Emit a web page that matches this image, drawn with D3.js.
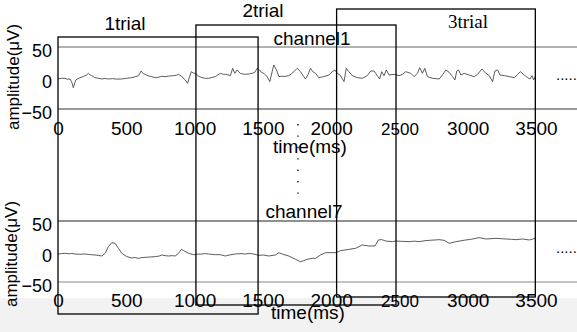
<!DOCTYPE html>
<html>
<head>
<meta charset="utf-8">
<script src="https://cdn.jsdelivr.net/npm/d3@7"></script>
<style>
body { margin: 0; background: #fff; }
svg { display: block; }
</style>
</head>
<body>
<div class="canvas"></div>
<script>
// tick labels
const xTicks = [0, 500, 1000, 1500, 2000, 2500, 3000, 3500];
const yTicks = [50, 0, -50];

// trial windows (ms)
const trials = ['1trial', '2trial', '3trial'];
const trialStart = [0, 1010, 2040];
const trialEnd = [1465, 2475, 3495];

// channel 1 samples [ms, uV]
const ch1 = [[0,-1.6],[25,-0.5],[51,-0.5],[70,-2],[88,-1.6],[100,-6],[112,-15.6],[130,-3.2],[145,-1],[161,0.5],[180,2],[198,3.8],[210,5],[223,7.5],[235,5],[247,3.8],[270,0.5],[296,-0.5],[320,-1.5],[345,-0.8],[369,-1.6],[400,-1],[430,-1.8],[467,-1.6],[500,-0.5],[540,0.5],[565,2],[590,3.8],[609,11.3],[625,7],[638,5.9],[660,3.5],[687,2.2],[712,0.5],[740,1.5],[760,2.8],[785,2.2],[815,3.2],[846,3.8],[865,4.5],[883,5.9],[907,2.2],[932,-3.2],[949,-8.6],[961,0.5],[976,10.2],[990,8],[1005,7.5],[1030,3],[1054,0.5],[1080,-0.5],[1103,-0.5],[1130,1],[1152,2.2],[1170,5],[1189,7.5],[1210,6],[1225,5.9],[1245,5],[1262,3.8],[1279,15.6],[1294,7.5],[1311,13],[1335,7.5],[1355,6.5],[1372,5.9],[1395,6.5],[1421,7.5],[1440,9],[1458,15.6],[1475,13],[1490,9],[1507,7.5],[1531,2.2],[1551,-5.9],[1568,10.2],[1580,21],[1600,13],[1617,2.2],[1635,3],[1653,2.2],[1690,3.8],[1710,7],[1727,10.2],[1751,15.6],[1776,10.2],[1800,2.2],[1812,-1.6],[1832,5.9],[1849,15.6],[1866,10.2],[1886,7.5],[1910,0.5],[1930,1.5],[1947,2.2],[1984,4.8],[2008,10.2],[2028,13],[2045,7.5],[2069,3.8],[2094,-5.9],[2111,15.6],[2130,10.2],[2155,3.8],[2192,0.5],[2228,-0.5],[2265,3.8],[2289,11.3],[2314,11.3],[2338,3.8],[2355,-1.6],[2370,10.2],[2387,3.8],[2404,13],[2424,4.8],[2461,5.9],[2497,3.8],[2522,5.9],[2546,10.2],[2583,7.5],[2607,2.2],[2632,7.5],[2649,16.7],[2668,7.5],[2686,15.6],[2705,2.2],[2742,-0.5],[2791,-1.6],[2815,4.8],[2840,13],[2864,9.1],[2889,2.2],[2906,-3.2],[2920,11.3],[2933,13],[2950,4.8],[2974,7.5],[3011,4.8],[3048,2.2],[3072,5.9],[3104,14.5],[3133,7.5],[3158,3.8],[3182,-5.9],[3199,11.3],[3219,13],[3236,4.8],[3268,3.8],[3304,2.2],[3341,0.5],[3366,5.9],[3385,10.2],[3414,4.8],[3439,0.5],[3456,-1.6],[3471,3.8],[3483,-3.2],[3495,2.2]];

// channel 7 samples [ms, uV]
const ch7 = [[0,-4.1],[25,-3.5],[51,-3.0],[80,-3.8],[100,-3.2],[125,-4.1],[160,-4.5],[198,-4.1],[230,-5],[271,-5.7],[300,-6.5],[320,-7.4],[345,-3.0],[369,8.0],[394,14.5],[418,13.4],[443,5.2],[467,-3.0],[504,-8.4],[540,-10.6],[565,-10],[589,-11.2],[615,-10],[638,-9.6],[675,-9],[712,-8.4],[740,-7.5],[761,-5.7],[790,-7],[810,-7.4],[835,-6.8],[858,-7.4],[883,-3.0],[903,3.5],[920,1.4],[956,-3.0],[993,-5.2],[1020,-4.5],[1054,-4.1],[1080,-3.5],[1103,-4.1],[1130,-4.8],[1152,-5.2],[1189,-5.2],[1225,-7.4],[1260,-5.5],[1299,-4.1],[1340,-3.5],[1372,-4.1],[1400,-3.2],[1433,-4.1],[1470,-6.3],[1505,-5.8],[1543,-7.4],[1592,-5.7],[1617,-1.9],[1641,-4.1],[1690,-7.4],[1739,-12.8],[1776,-16.7],[1800,-15.0],[1825,-12.8],[1861,-11.2],[1886,-11.2],[1922,-5.7],[1959,-1.9],[2008,-1.9],[2037,-1.9],[2069,1.4],[2100,2.5],[2130,3.5],[2179,5.2],[2228,10.7],[2277,9.0],[2321,9.0],[2346,18.9],[2370,19.5],[2399,17.2],[2448,16.1],[2473,17.2],[2520,16.6],[2571,16.1],[2610,17],[2644,16.1],[2680,17.5],[2717,18.3],[2755,18.8],[2791,19.4],[2827,18.3],[2864,13.4],[2913,16.1],[2950,17.5],[2986,18.9],[3020,19.8],[3060,21.6],[3084,22.7],[3133,20.5],[3170,21],[3207,21.6],[3245,21],[3280,20.5],[3320,20],[3353,19.4],[3402,20.5],[3451,18.9],[3495,21.6]];

const dims = {width: 577, height: 332};
const sans = '"Liberation Sans", Arial, sans-serif';
const serif = '"Liberation Serif", "Times New Roman", serif';

const svg = d3.select('.canvas')
.append('svg')
.attr('width', dims.width)
.attr('height', dims.height)

// light grey strip at the bottom of the figure
svg.append('rect')
.attr('x', 0).attr('y', 298)
.attr('width', dims.width).attr('height', dims.height - 298)
.attr('fill', '#f2f2f2')

const x = d3.scaleLinear().domain([0, 3500]).range([58, 536])

const panels = [
    {name: 'channel1', data: ch1, top: 47, bottom: 109, topColor: '#666', botColor: '#333',
     tickY: 135, titleX: 312, titleY: 45, timeX: 310, timeY: 153, ampX: 19, ampY: 77, moreY: 80},
    {name: 'channel7', data: ch7, top: 221, bottom: 282, topColor: '#222', botColor: '#888',
     tickY: 307, titleX: 304, titleY: 218, timeX: 308, timeY: 319, ampX: 17, ampY: 254, moreY: 253}
]

panels.forEach(p => {
    const y = d3.scaleLinear().domain([-50, 50]).range([p.bottom, p.top])
    const g = svg.append('g')

    // 50 / -50 reference lines
    g.append('line')
    .attr('x1', 58).attr('x2', dims.width)
    .attr('y1', y(50)).attr('y2', y(50))
    .attr('stroke', p.topColor)
    g.append('line')
    .attr('x1', 58).attr('x2', dims.width)
    .attr('y1', y(-50)).attr('y2', y(-50))
    .attr('stroke', p.botColor)

    // signal
    const line = d3.line()
    .x(d => x(d[0]))
    .y(d => y(d[1]))
    g.append('path')
    .datum(p.data)
    .attr('d', line)
    .attr('fill', 'none')
    .attr('stroke', '#4a4a4a')
    .attr('stroke-width', 0.9)

    // x tick labels, no tick marks
    const xAxis = g.append('g')
    .attr('transform', `translate(0, ${p.tickY})`)
    .call(d3.axisBottom(x).tickValues(xTicks).tickFormat(d3.format('d')).tickSize(0).tickPadding(0))
    xAxis.select('.domain').remove()
    xAxis.selectAll('text')
    .attr('y', 0).attr('dy', 0)
    .attr('fill', '#000')
    .style('font-family', sans)
    .style('font-size', d => d === 2500 ? '17px' : '19px')

    // y tick labels
    const yAxis = g.append('g')
    .attr('transform', 'translate(52, 4)')
    .call(d3.axisLeft(y).tickValues(yTicks).tickSize(0).tickPadding(0))
    yAxis.select('.domain').remove()
    yAxis.selectAll('text')
    .attr('fill', '#000')
    .style('font-family', sans)
    .style('font-size', '18px')

    g.append('text')
    .attr('x', p.titleX).attr('y', p.titleY)
    .attr('text-anchor', 'middle')
    .style('font-family', sans)
    .style('font-size', '19px')
    .text(p.name)

    g.append('text')
    .attr('x', p.timeX).attr('y', p.timeY)
    .attr('text-anchor', 'middle')
    .style('font-family', sans)
    .style('font-size', '19px')
    .text('time(ms)')

    g.append('text')
    .attr('transform', `translate(${p.ampX}, ${p.ampY}) rotate(-90)`)
    .attr('text-anchor', 'middle')
    .style('font-family', sans)
    .style('font-size', '17px')
    .text('amplitude(μV)')

    g.append('text')
    .attr('x', 556).attr('y', p.moreY)
    .style('font-family', sans)
    .style('font-size', '15px')
    .text('.....')
})

// vertical dots between the channels
svg.append('line')
.attr('x1', 298).attr('x2', 298)
.attr('y1', 124).attr('y2', 195)
.attr('stroke', '#000')
.attr('stroke-width', 1.3)
.attr('stroke-dasharray', '1.4,10')

// trial boxes
const boxTop = [37, 25, 9]
const boxBottom = [314, 305, 297]
const labelX = [125, 263, 468]
const labelY = [30, 17, 28]

trials.forEach((t, i) => {
    svg.append('rect')
    .attr('x', x(trialStart[i]))
    .attr('y', boxTop[i])
    .attr('width', x(trialEnd[i]) - x(trialStart[i]))
    .attr('height', boxBottom[i] - boxTop[i])
    .attr('fill', 'none')
    .attr('stroke', '#000')
    .attr('stroke-width', 1.3)

    svg.append('text')
    .attr('x', labelX[i]).attr('y', labelY[i])
    .attr('text-anchor', 'middle')
    .style('font-family', i === 2 ? serif : sans)
    .style('font-size', '19px')
    .text(t)
})
</script>
</body>
</html>
